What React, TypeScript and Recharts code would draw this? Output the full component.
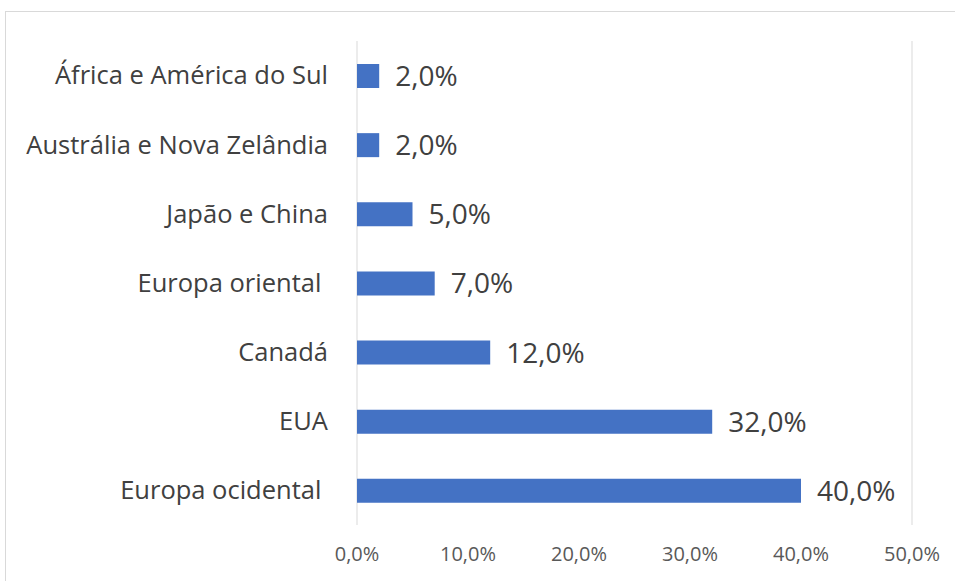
import { BarChart, Bar, XAxis, YAxis, CartesianGrid, LabelList, ReferenceLine } from 'recharts';

// ─── Data ───────────────────────────────────────────────────────────
const regions = [
  'África e América do Sul',
  'Austrália e Nova Zelândia',
  'Japão e China',
  'Europa oriental ',
  'Canadá',
  'EUA',
  'Europa ocidental ',
];
const shares = [0.02, 0.02, 0.05, 0.07, 0.12, 0.32, 0.4];
const majorTicks = [0, 0.1, 0.2, 0.3, 0.4, 0.5];
const minorTicks = [
  0.02, 0.04, 0.06, 0.08, 0.12, 0.14, 0.16, 0.18, 0.22, 0.24, 0.26, 0.28,
  0.32, 0.34, 0.36, 0.38, 0.42, 0.44, 0.46, 0.48,
];

const data = regions.map((name, i) => ({ name, value: shares[i] }));

const FONT = '"Open Sans", "Noto Sans", sans-serif';
const pct = (v: number) => `${(v * 100).toFixed(1).replace('.', ',')}%`;

const W = 955;
const H = 581;
const MARGIN = { top: 41, right: 43, bottom: 16, left: 0 };

// category tick that keeps the trailing spaces of the labels
function RegionTick({ x, y, payload }: { x?: number; y?: number; payload?: { value: string } }) {
  return (
    <text
      x={x}
      y={y}
      dy="0.35em"
      textAnchor="end"
      fill="#404040"
      fontSize={25.5}
      fontFamily={FONT}
      xmlSpace="preserve"
      style={{ whiteSpace: 'pre' }}
    >
      {payload?.value}
    </text>
  );
}

const layer = { position: 'absolute' as const, left: 0, top: 0 };

export default function App() {
  return (
    <div style={{ position: 'absolute', left: 0, top: 0, width: W, height: H, background: '#fff' }}>
      <div
        style={{
          position: 'absolute',
          left: 5,
          top: 11,
          width: 950,
          height: 570,
          borderTop: '1px solid #d9d9d9',
          borderLeft: '1px solid #d9d9d9',
        }}
      />
      {/* back layer: major + minor gridlines, same axes as the front chart */}
      <BarChart width={W} height={H} data={data} layout="vertical" margin={MARGIN} style={layer}>
        {minorTicks.map((t) => (
          <ReferenceLine key={t} x={t} stroke="#ededed" strokeWidth={1} />
        ))}
        <CartesianGrid horizontal={false} stroke="#d9d9d9" />
        <XAxis
          type="number"
          domain={[0, 0.5]}
          ticks={majorTicks}
          interval={0}
          tick={false}
          axisLine={false}
          tickLine={false}
          height={40}
        />
        <YAxis
          type="category"
          dataKey="name"
          width={357}
          tick={false}
          axisLine={false}
          tickLine={false}
        />
      </BarChart>

      {/* front layer: bars, labels and axis text */}
      <BarChart width={W} height={H} data={data} layout="vertical" margin={MARGIN} barSize={24} style={layer}>
        <XAxis
          type="number"
          domain={[0, 0.5]}
          ticks={majorTicks}
          tickFormatter={pct}
          axisLine={false}
          tickLine={false}
          tickSize={0}
          tickMargin={22}
          height={40}
          interval={0}
          tick={{ fill: '#595959', fontSize: 20, fontFamily: FONT }}
        />
        <YAxis
          type="category"
          dataKey="name"
          width={357}
          axisLine={false}
          tickLine={false}
          tickSize={0}
          tickMargin={29}
          interval={0}
          tick={<RegionTick />}
        />
        <Bar dataKey="value" fill="#4472c4" isAnimationActive={false}>
          <LabelList
            dataKey="value"
            position="right"
            offset={16}
            formatter={(v: number) => pct(v)}
            fill="#404040"
            fontSize={28}
            fontFamily={FONT}
          />
        </Bar>
      </BarChart>
    </div>
  );
}
